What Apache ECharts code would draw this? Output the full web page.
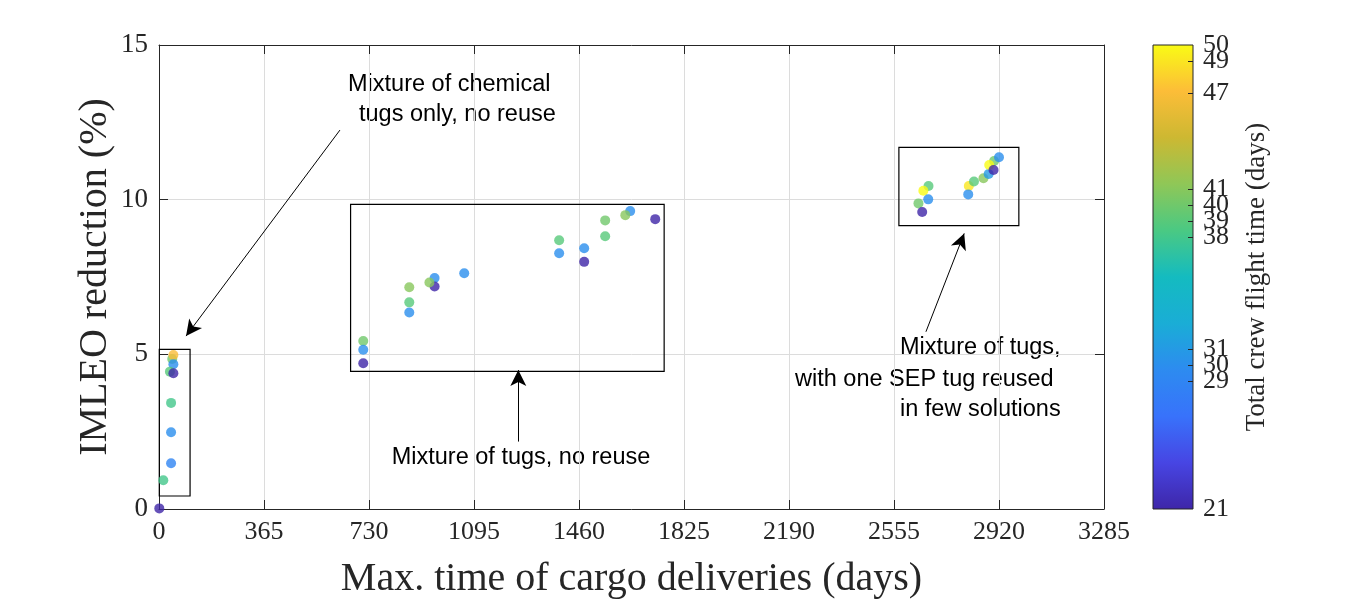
<!DOCTYPE html>
<html>
<head>
<meta charset="utf-8">
<script src="https://cdn.jsdelivr.net/npm/echarts@6/dist/echarts.min.js"></script>
<style>html,body{margin:0;padding:0;background:#fff}#c{width:1350px;height:600px}</style>
</head>
<body>
<div id="c"></div>
<script>
// ---- data ----
const xTicks = [0, 365, 730, 1095, 1460, 1825, 2190, 2555, 2920, 3285];
const yTicks = [0, 5, 10, 15];
const cbTicks = [21, 29, 30, 31, 38, 39, 40, 41, 47, 49, 50];

const xDays = [
  46, 50, 50, 38, 50, 42, 42, 42, 15, 1,
  710, 710, 710, 870, 870, 870, 958, 958, 940, 1061, 1391, 1391, 1478, 1478, 1551, 1551, 1638, 1621, 1725,
  2675, 2657, 2674, 2640, 2653,
  2815, 2813, 2833, 2866, 2884, 2903, 2886, 2901, 2920
];
const yReduction = [
  4.85, 4.98, 4.68, 4.44, 4.39, 3.43, 2.48, 1.48, 0.93, 0.02,
  5.43, 5.15, 4.71, 7.17, 6.68, 6.35, 7.47, 7.19, 7.32, 7.62, 8.69, 8.27, 8.43, 7.99, 9.33, 8.82, 9.63, 9.50, 9.37,
  10.44, 10.29, 10.01, 9.88, 9.60,
  10.44, 10.17, 10.59, 10.69, 10.83, 11.25, 11.12, 10.96, 11.37
];
const crewTime = [
  40, 47, 30, 39, 21, 38, 30, 29, 38, 21,
  40, 30, 21, 41, 39, 30, 30, 21, 41, 30, 39, 30, 30, 21, 40, 39, 30, 41, 21,
  39, 50, 30, 40, 21,
  49, 30, 39, 41, 31, 40, 50, 21, 30
];

// annotation boxes [x0, y0, x1, y1]
const boxes = [
  [1, 0.42, 108, 5.16],
  [666, 4.45, 1756, 9.85],
  [2572, 9.16, 2989, 11.69]
];
// arrows [xStart, yStart, xTip, yTip]
const arrows = [
  [629, 12.25, 94, 5.59],
  [1249, 2.18, 1249, 4.49],
  [2666, 5.73, 2799, 8.91]
];

const data = xDays.map((x, i) => [x, yReduction[i], crewTime[i]]);

const serif = '"Liberation Serif", "Times New Roman", serif';
const sans = '"Liberation Sans", Arial, sans-serif';
const axisCol = '#262626';
const parula = ['#3E26A8', '#4745E3', '#3872FB', '#2D8BF0', '#1AADD6', '#14BBC0',
                '#4AC983', '#8FC757', '#CDB832', '#FCBD38', '#F9FB15'];

const cbGradient = new echarts.graphic.LinearGradient(0, 1, 0, 0,
  parula.map((c, i) => ({ offset: i / (parula.length - 1), color: c })));

const chart = echarts.init(document.getElementById('c'));

const mainAxisBase = {
  type: 'value',
  axisLine: { show: true, onZero: false, lineStyle: { color: axisCol, width: 1 } },
  axisTick: { show: true, inside: true, length: 9, lineStyle: { color: axisCol } },
};
const plain = v => String(v);
const cbMin = cbTicks[0], cbMax = cbTicks[cbTicks.length - 1];
const cbLabelStyle = { color: axisCol, fontFamily: serif, fontSize: 26, margin: 10, formatter: plain,
                       showMinLabel: true, showMaxLabel: true, hideOverlap: false };

chart.setOption({
  animation: false,
  backgroundColor: '#fff',
  grid: [
    { left: 159, top: 45, width: 945, height: 464, containLabel: false, outerBoundsMode: 'none' },
    { left: 1153, top: 45, width: 40, height: 464, show: true, borderColor: axisCol, borderWidth: 1,
      backgroundColor: cbGradient, outerBoundsMode: 'none' }
  ],
  xAxis: [
    Object.assign({}, mainAxisBase, {
      gridIndex: 0, position: 'bottom', min: xTicks[0], max: xTicks[xTicks.length - 1], interval: 365,
      axisLabel: { color: axisCol, fontFamily: serif, fontSize: 26, margin: 10, formatter: plain },
      splitLine: { show: true, lineStyle: { color: '#dcdcdc', width: 1 } },
      name: 'Max. time of cargo deliveries (days)', nameLocation: 'middle', nameGap: 50,
      nameTextStyle: { color: axisCol, fontFamily: serif, fontSize: 40 }
    }),
    Object.assign({}, mainAxisBase, {
      gridIndex: 0, position: 'top', min: xTicks[0], max: xTicks[xTicks.length - 1], interval: 365,
      axisLabel: { show: false }, splitLine: { show: false }
    }),
    { gridIndex: 1, type: 'value', show: false, min: 0, max: 1, axisLine: { onZero: false } }
  ],
  yAxis: [
    Object.assign({}, mainAxisBase, {
      gridIndex: 0, position: 'left', min: yTicks[0], max: yTicks[yTicks.length - 1], interval: 5,
      axisLabel: { color: axisCol, fontFamily: serif, fontSize: 27, margin: 11, formatter: plain },
      splitLine: { show: true, lineStyle: { color: '#dcdcdc', width: 1 } },
      name: 'IMLEO reduction (%)', nameLocation: 'middle', nameGap: 44, nameMoveOverlap: false,
      nameTextStyle: { color: axisCol, fontFamily: serif, fontSize: 40 }
    }),
    Object.assign({}, mainAxisBase, {
      gridIndex: 0, position: 'right', min: yTicks[0], max: yTicks[yTicks.length - 1], interval: 5,
      axisLabel: { show: false }, splitLine: { show: false }
    }),
    {
      gridIndex: 1, type: 'value', position: 'right', offset: 0, min: cbMin, max: cbMax,
      axisLine: { show: false, onZero: false },
      axisTick: { show: true, inside: true, length: 5, customValues: cbTicks.slice(1, -1),
                  lineStyle: { color: axisCol } },
      axisLabel: Object.assign({ show: true, customValues: cbTicks.filter(v => v !== 49) }, cbLabelStyle),
      splitLine: { show: false },
      name: 'Total crew flight time (days)', nameLocation: 'middle', nameRotate: 90, nameGap: 50,
      nameTextStyle: { color: axisCol, fontFamily: serif, fontSize: 27 },
      z: 5
    },
    {
      gridIndex: 1, type: 'value', position: 'right', offset: 0, min: cbMin, max: cbMax,
      axisLine: { show: false, onZero: false }, axisTick: { show: false }, splitLine: { show: false },
      axisLabel: Object.assign({ show: true, customValues: [49] }, cbLabelStyle)
    }
  ],
  visualMap: {
    type: 'continuous', min: cbMin, max: cbMax, dimension: 2, seriesIndex: 0,
    show: false,
    inRange: { color: parula }
  },
  series: [{
    type: 'scatter',
    xAxisIndex: 0, yAxisIndex: 0,
    symbol: 'circle', symbolSize: 10,
    clip: false,
    data: data,
    emphasis: { disabled: true },
    markArea: {
      silent: true,
      itemStyle: { color: 'rgba(0,0,0,0)', borderColor: '#000', borderWidth: 1.2 },
      data: boxes.map(b => [{ coord: [b[0], b[1]] }, { coord: [b[2], b[3]] }])
    },
    markLine: {
      silent: true,
      symbol: ['none', 'arrow'],
      symbolSize: [12, 16],
      label: { show: false },
      lineStyle: { color: '#000', width: 1, type: 'solid' },
      data: arrows.map(a => [{ coord: [a[0], a[1]] }, { coord: [a[2], a[3]] }])
    }
  }],
  graphic: [
    { type: 'text', x: 348, y: 85, style: { text: 'Mixture of chemical', fontFamily: sans, fontSize: 23.5, fill: '#000', verticalAlign: 'middle' } },
    { type: 'text', x: 359, y: 115, style: { text: 'tugs only, no reuse', fontFamily: sans, fontSize: 23.5, fill: '#000', verticalAlign: 'middle' } },
    { type: 'text', x: 521, y: 458, style: { text: 'Mixture of tugs, no reuse', fontFamily: sans, fontSize: 23.5, fill: '#000', align: 'center', verticalAlign: 'middle' } },
    { type: 'text', x: 900, y: 348, style: { text: 'Mixture of tugs,', fontFamily: sans, fontSize: 23.5, fill: '#000', verticalAlign: 'middle' } },
    { type: 'text', x: 795, y: 380, style: { text: 'with one SEP tug reused', fontFamily: sans, fontSize: 23.5, fill: '#000', verticalAlign: 'middle' } },
    { type: 'text', x: 900, y: 410, style: { text: 'in few solutions', fontFamily: sans, fontSize: 23.5, fill: '#000', verticalAlign: 'middle' } }
  ]
});
</script>
</body>
</html>
